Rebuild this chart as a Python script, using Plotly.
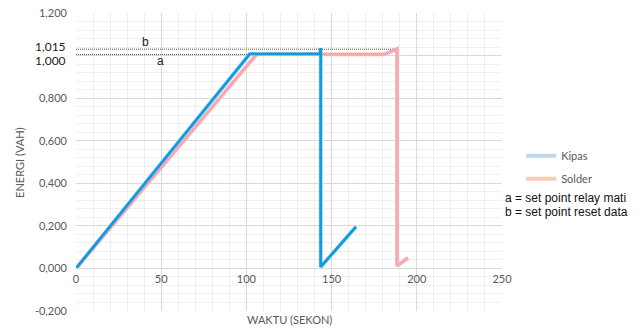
import plotly.graph_objects as go

# Data
kipas_x = [0, 102, 143.2, 143.6, 143.6, 164.3]
kipas_y = [0, 1.008, 1.008, 1.035, 0.007, 0.196]
solder_x = [0, 106, 181, 188.4, 188.4, 194.8]
solder_y = [0, 1.006, 1.006, 1.031, 0.012, 0.05]
line_b_x = [0, 188.4]
line_b_y = [1.030, 1.030]
line_a_x = [0, 102]
line_a_y = [1.005, 1.005]
y_tickvals = [-0.2, 0.0, 0.2, 0.4, 0.6, 0.8, 1.0, 1.2]
y_ticktext = ["-0,200", "0,000", "0,200", "0,400", "0,600", "0,800", "", "1,200"]
x_tickvals = [0, 50, 100, 150, 200, 250]

GRAY = "#595959"
FONT = "Lato, Open Sans, sans-serif"

fig = go.Figure()
# faint Excel series (legend)
fig.add_trace(go.Scatter(x=kipas_x, y=kipas_y, mode="lines", name="Kipas",
                         line=dict(color="#bdd7ee", width=4), legendgroup="k"))
fig.add_trace(go.Scatter(x=solder_x, y=solder_y, mode="lines", name="Solder",
                         line=dict(color="#f8cbad", width=4), legendgroup="s"))
# dotted reference lines
fig.add_trace(go.Scatter(x=line_b_x, y=line_b_y, mode="lines", showlegend=False,
                         line=dict(color="#555555", width=1, dash="1px,1px")))
fig.add_trace(go.Scatter(x=line_a_x, y=line_a_y, mode="lines", showlegend=False,
                         line=dict(color="#555555", width=1, dash="1px,1px")))
# bold overlay lines
fig.add_trace(go.Scatter(x=solder_x, y=solder_y, mode="lines", showlegend=False,
                         line=dict(color="#f5a6bd", width=2.8)))
fig.add_trace(go.Scatter(x=kipas_x, y=kipas_y, mode="lines", showlegend=False,
                         line=dict(color="#0a9de3", width=2.8)))

fig.update_layout(
    width=644, height=329,
    margin=dict(l=76, r=142, t=13, b=18, autoexpand=False),
    plot_bgcolor="white", paper_bgcolor="white",
    font=dict(family=FONT, size=11, color=GRAY),
    legend=dict(x=1.045, y=0.57, xanchor="left", yanchor="top",
                font=dict(size=11, color=GRAY), traceorder="grouped",
                tracegroupgap=4, bgcolor="rgba(0,0,0,0)"),
    xaxis=dict(range=[0, 250], tickvals=x_tickvals, automargin=False,
               showgrid=True, gridcolor="#d9d9d9", gridwidth=1,
               minor=dict(dtick=10, showgrid=True, gridcolor="#efefef"),
               anchor="free", position=0.1429, showline=True,
               linecolor="#d9d9d9", zeroline=False, ticks="",
               tickfont=dict(size=11, color=GRAY)),
    yaxis=dict(range=[-0.2, 1.2], tickvals=y_tickvals, ticktext=y_ticktext,
               automargin=False,
               showgrid=True, gridcolor="#d9d9d9", gridwidth=1,
               minor=dict(dtick=0.04, tick0=0, showgrid=True, gridcolor="#efefef"),
               zeroline=True, zerolinecolor="#d9d9d9", zerolinewidth=1,
               ticks="", ticklabelstandoff=8,
               tickfont=dict(size=11, color=GRAY)),
)

ann = [
    dict(text="1,015", x=0, y=1.0404, xref="paper", yref="y", xanchor="right",
         yanchor="middle", xshift=-8, showarrow=False,
         font=dict(size=12, color="#222222", family=FONT)),
    dict(text="1,000", x=0, y=0.9746, xref="paper", yref="y", xanchor="right",
         yanchor="middle", xshift=-8, showarrow=False,
         font=dict(size=12, color="#222222", family=FONT)),
    dict(text="b", x=41, y=1.064, xref="x", yref="y", showarrow=False,
         xanchor="center", yanchor="middle",
         font=dict(size=12, color="#222222", family="Liberation Sans")),
    dict(text="a", x=49.3, y=0.975, xref="x", yref="y", showarrow=False,
         xanchor="center", yanchor="middle",
         font=dict(size=12, color="#222222", family="Liberation Sans")),
    dict(text="ENERGI (VAH)", x=-0.134, y=0.5, xref="paper", yref="paper",
         xanchor="center", yanchor="middle",
         textangle=-90, showarrow=False, font=dict(size=11, color=GRAY)),
    dict(text="WAKTU (SEKON)", x=0.502, y=-0.03, xref="paper", yref="paper",
         xanchor="center", yanchor="middle",
         showarrow=False, font=dict(size=11, color=GRAY)),
    dict(text="a = set point relay mati", x=1.002, y=(311 - 198) / 298, xref="paper",
         yref="paper", xanchor="left", yanchor="middle", showarrow=False,
         font=dict(size=12, color="#111111", family="Liberation Sans")),
    dict(text="b = set point reset data", x=1.002, y=(311 - 212) / 298, xref="paper",
         yref="paper", xanchor="left", yanchor="middle", showarrow=False,
         font=dict(size=12, color="#111111", family="Liberation Sans")),
]
fig.update_layout(annotations=ann)

fig.write_html("out.html", config={"displayModeBar": False},
               post_script="document.body.style.margin='0';")
